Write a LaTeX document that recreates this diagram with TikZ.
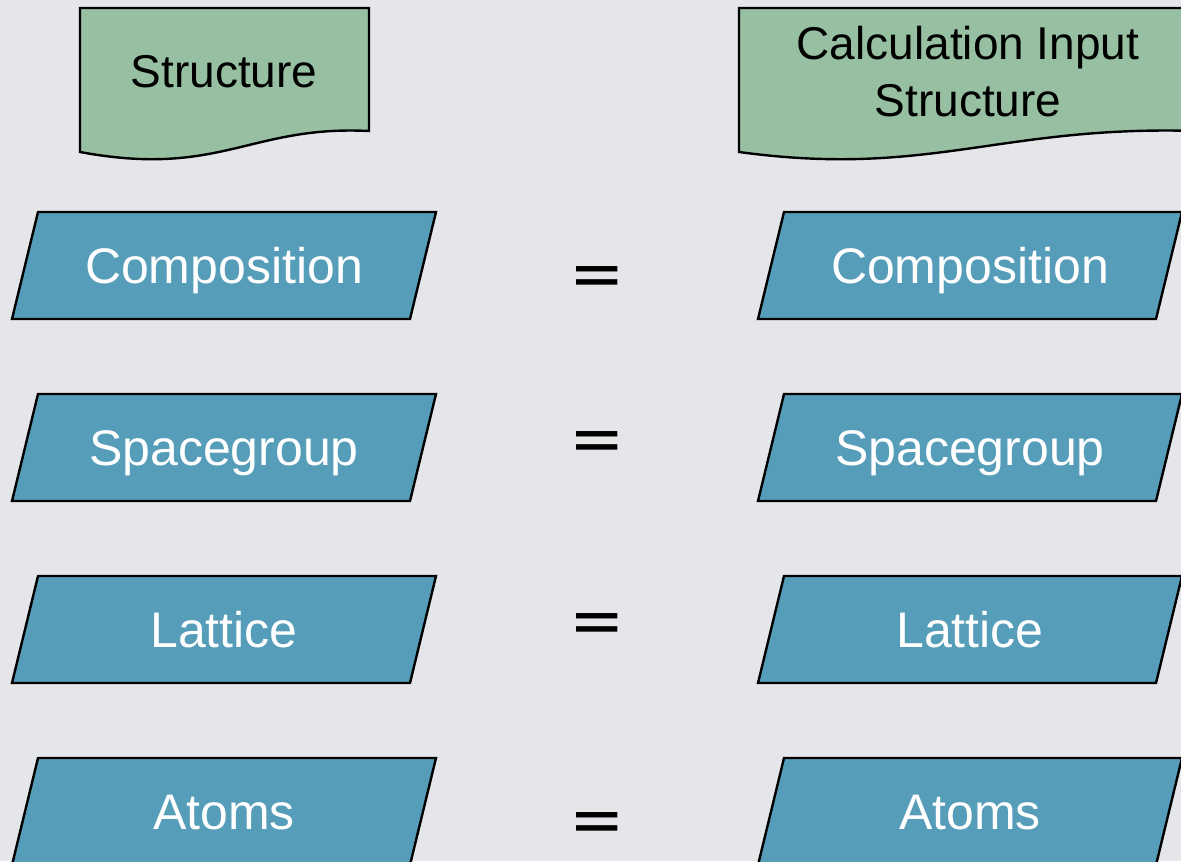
\documentclass[tikz,border=0pt]{standalone}
\usepackage{fontspec}
\setmainfont{Liberation Sans}
\newfontfamily\eqfont{DejaVu Sans}
\usetikzlibrary{shapes.geometric}

\definecolor{bggrey}{RGB}{229,230,234}
\definecolor{docgreen}{RGB}{150,192,161}
\definecolor{fieldblue}{RGB}{85,157,185}

\begin{document}
\begin{tikzpicture}[x=0.5pt, y=-0.5pt,
    field/.style={trapezium, trapezium left angle=62.2, trapezium right angle=117.8,
      trapezium stretches body=true, minimum width=212pt, minimum height=53.5pt,
      draw=black, line width=1.2pt, fill=fieldblue, text=white,
      text height=18pt, text depth=0pt, font=\fontsize{25}{30}\selectfont},
    docbody/.style={draw=black, line width=1.2pt, fill=docgreen},
    doclabel/.style={align=center, font=\fontsize{23}{28.5}\selectfont},
    eqsign/.style={font=\eqfont\fontsize{33}{33}\selectfont}]
  \fill[bggrey] (0,0) rectangle (1181,861);
  \useasboundingbox (0,0) rectangle (1181,861);

  % structure documents
  \draw[docbody] (80,8) -- (369,8) -- (369,131)
    .. controls (250,125) and (220,178) .. (80,152) -- cycle;
  \draw[docbody] (739,8) -- (1197,8) -- (1197,131)
    .. controls (1000,125) and (930,178) .. (739,152) -- cycle;
  \node[doclabel] (structlbl) at (224,72) {Structure};
  \node[doclabel] (calclbl) at (968,72) {Calculation Input\\Structure};

  % fields of each structure
  \node[field] (compl) at (224,265.5) {Composition};
  \node[field] (spgl)  at (224,447.5) {Spacegroup};
  \node[field] (latl)  at (224,629.5) {Lattice};
  \node[field] (atoml) at (224,811.5) {Atoms};

  \node[field] (compr) at (970,265.5) {Composition};
  \node[field] (spgr)  at (970,447.5) {Spacegroup};
  \node[field] (latr)  at (970,629.5) {Lattice};
  \node[field] (atomr) at (970,811.5) {Atoms};

  % equal signs
  \node[eqsign] (eqcomp) at (597,282) {=};
  \node[eqsign] (eqspg)  at (597,447) {=};
  \node[eqsign] (eqlat)  at (597,629) {=};
  \node[eqsign] (eqatom) at (597,828) {=};
\end{tikzpicture}
\end{document}
